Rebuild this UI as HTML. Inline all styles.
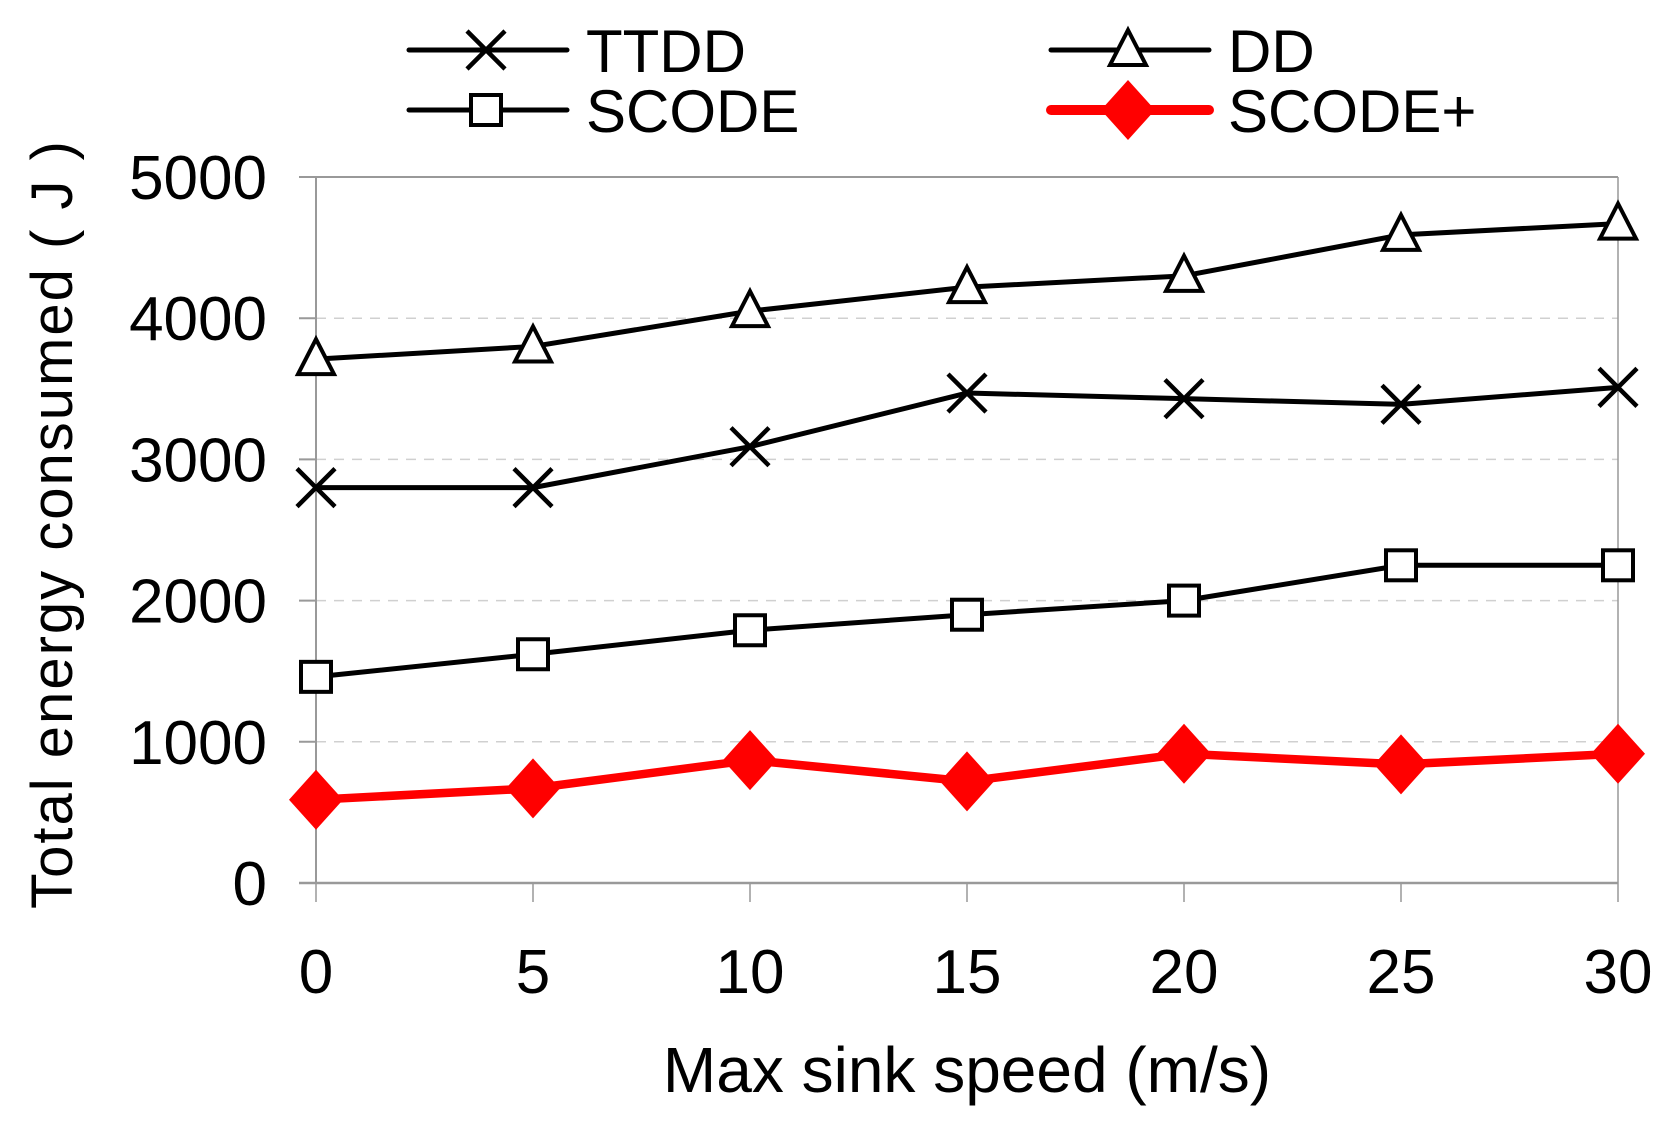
<!DOCTYPE html>
<html><head><meta charset="utf-8">
<style>
html,body{margin:0;padding:0;background:#fff;}
svg{display:block;font-family:"Liberation Sans",Arial,sans-serif;}
</style></head>
<body>
<svg id="chart" width="1676" height="1132" viewBox="0 0 1676 1132" xmlns="http://www.w3.org/2000/svg">
<g id="grid"></g>
<g id="axes"></g>
<g id="series"></g>
<g id="legend"></g>
<text x="967" y="1092" font-size="64" text-anchor="middle">Max sink speed (m/s)</text>
<text transform="translate(72,524) rotate(-90)" font-size="58" letter-spacing="2" text-anchor="middle">Total energy consumed ( J )</text>
</svg>
<script>
const categories = [0, 5, 10, 15, 20, 25, 30];
const yTicks = [0, 1000, 2000, 3000, 4000, 5000];
const ttdd = [2800, 2800, 3090, 3470, 3430, 3390, 3510];
const dd = [3710, 3800, 4050, 4220, 4300, 4590, 4670];
const scode = [1460, 1620, 1790, 1900, 2000, 2250, 2250];
const scodePlus = [590, 670, 870, 720, 915, 840, 915];

const NS = "http://www.w3.org/2000/svg";
const X0 = 316, X1 = 1618, Y0 = 883, Y1 = 177;
function xs(v){ return X0 + (v - 0) / 30 * (X1 - X0); }
function ys(v){ return Y0 - v / 5000 * (Y0 - Y1); }
function mk(tag, attrs, parent){
  const e = document.createElementNS(NS, tag);
  for (const k in attrs) e.setAttribute(k, attrs[k]);
  parent.appendChild(e);
  return e;
}
const grid = document.getElementById('grid');
const axes = document.getElementById('axes');
const series = document.getElementById('series');
const legend = document.getElementById('legend');

yTicks.forEach(t => {
  const y = ys(t);
  if (t > 0 && t < 5000) {
    const g = mk('line', {x1: X0, x2: X1, y1: y, y2: y, stroke: '#d0d0d0', 'stroke-width': 1.5, 'stroke-dasharray': '10,8'}, grid);
    
    
  }
  const tk = mk('line', {x1: 299, x2: X0, y1: y, y2: y, stroke: '#999', 'stroke-width': 2}, axes);
  
  
  const lb = mk('text', {x: 267, y: y + 22, 'font-size': 62, 'text-anchor': 'end'}, axes);
  lb.textContent = t;
  
  
});
const topBorder = mk('line', {x1: X0, x2: X1, y1: Y1, y2: Y1, stroke: '#999', 'stroke-width': 2}, axes);


const rightBorder = mk('line', {x1: X1, x2: X1, y1: Y1, y2: Y0, stroke: '#999', 'stroke-width': 1.5}, axes);


const yax = mk('line', {x1: X0, x2: X0, y1: Y1, y2: Y0, stroke: '#999', 'stroke-width': 2}, axes);


const xax = mk('line', {x1: 299, x2: X1, y1: Y0, y2: Y0, stroke: '#999', 'stroke-width': 2.5}, axes);


categories.forEach(c => {
  const x = xs(c);
  const tk = mk('line', {x1: x, x2: x, y1: Y0, y2: 902, stroke: '#999', 'stroke-width': 1.5}, axes);
  
  
  const lb = mk('text', {x: x, y: 993, 'font-size': 62, 'text-anchor': 'middle'}, axes);
  lb.textContent = c;
  
  
});

function marker(type, x, y, parent){
  let e;
  if (type === 'x') {
    e = mk('path', {d: `M${x-19},${y-19}L${x+19},${y+19}M${x-19},${y+19}L${x+19},${y-19}`, stroke: '#000', 'stroke-width': 4.5, fill: 'none'}, parent);
  } else if (type === 'tri') {
    e = mk('path', {d: `M${x},${y-20}L${x+18},${y+15}L${x-18},${y+15}Z`, stroke: '#000', 'stroke-width': 4, fill: '#fff'}, parent);
  } else if (type === 'sq') {
    e = mk('rect', {x: x-15, y: y-15, width: 30, height: 30, stroke: '#000', 'stroke-width': 4, fill: '#fff'}, parent);
  } else {
    e = mk('path', {d: `M${x},${y-30}L${x+27},${y}L${x},${y+30}L${x-27},${y}Z`, fill: '#ff0000'}, parent);
  }
  return e;
}
function drawSeries(name, vals, type, color, w){
  const g = mk('g', {}, series);
  
  
  const pts = vals.map((v, i) => xs(categories[i]) + ',' + ys(v)).join(' ');
  const pl = mk('polyline', {points: pts, fill: 'none', stroke: color, 'stroke-width': w, 'stroke-linejoin': 'round'}, g);
  
  
  vals.forEach((v, i) => {
    const m = marker(type, xs(categories[i]), ys(v), g);
    
    
  });
}
drawSeries('dd', dd, 'tri', '#000', 5);
drawSeries('ttdd', ttdd, 'x', '#000', 5);
drawSeries('scode', scode, 'sq', '#000', 5);
drawSeries('scode-plus', scodePlus, 'dia', '#ff0000', 8.5);

function legendEntry(name, label, type, color, w, lx, y){
  const g = mk('g', {}, legend);
  
  
  mk('line', {x1: lx, x2: lx + 158, y1: y, y2: y, stroke: color, 'stroke-width': w, 'stroke-linecap': 'round'}, g);
  marker(type, lx + 77, y, g);
  const t = mk('text', {x: lx + 177, y: y + 22, 'font-size': 60}, g);
  t.textContent = label;
}
legendEntry('ttdd', 'TTDD', 'x', '#000', 5, 409, 50);
legendEntry('dd', 'DD', 'tri', '#000', 5, 1051, 50);
legendEntry('scode', 'SCODE', 'sq', '#000', 5, 409, 110);
legendEntry('scode-plus', 'SCODE+', 'dia', '#ff0000', 10, 1051, 110);
</script>
</body></html>
